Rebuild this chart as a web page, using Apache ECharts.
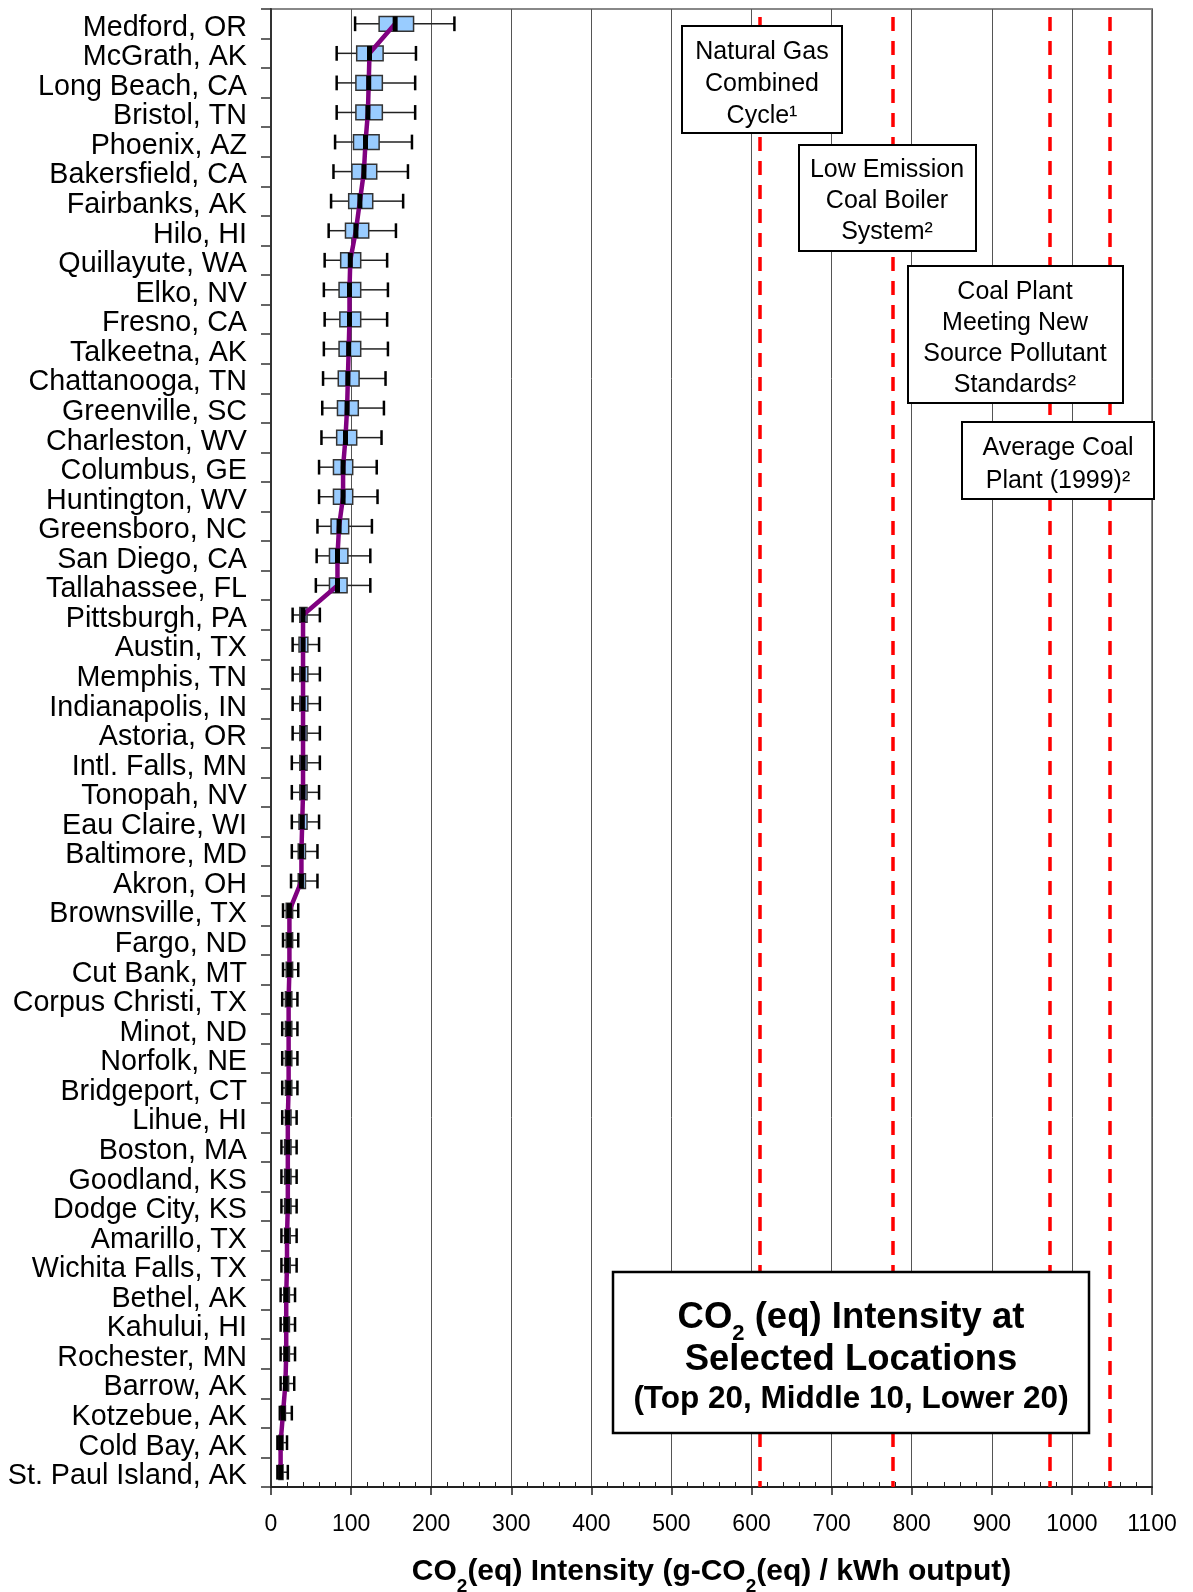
<!DOCTYPE html>
<html><head><meta charset="utf-8">
<script src="https://cdn.jsdelivr.net/npm/echarts@6/dist/echarts.min.js"></script>
<style>html,body{margin:0;padding:0;background:#fff}#c{width:1193px;height:1592px}</style>
</head><body><div id="c"></div><script>
const locations = ['Medford, OR','McGrath, AK','Long Beach, CA','Bristol, TN','Phoenix, AZ','Bakersfield, CA','Fairbanks, AK','Hilo, HI','Quillayute, WA','Elko, NV','Fresno, CA','Talkeetna, AK','Chattanooga, TN','Greenville, SC','Charleston, WV','Columbus, GE','Huntington, WV','Greensboro, NC','San Diego, CA','Tallahassee, FL','Pittsburgh, PA','Austin, TX','Memphis, TN','Indianapolis, IN','Astoria, OR','Intl. Falls, MN','Tonopah, NV','Eau Claire, WI','Baltimore, MD','Akron, OH','Brownsville, TX','Fargo, ND','Cut Bank, MT','Corpus Christi, TX','Minot, ND','Norfolk, NE','Bridgeport, CT','Lihue, HI','Boston, MA','Goodland, KS','Dodge City, KS','Amarillo, TX','Wichita Falls, TX','Bethel, AK','Kahului, HI','Rochester, MN','Barrow, AK','Kotzebue, AK','Cold Bay, AK','St. Paul Island, AK'];
const whiskerLow = [105,82,82,82,80,78,75,72,67,66, 67,66,65,64,63,60,60,58,57,56, 27,27,27,27,27,26,26,26,26,25, 15,15,15,14,14,14,14,14,13,13, 13,13,13,12,12,12,12,11,8,8];
const q1 = [135,107,106,106,103,101,97,93,87,85, 86,85,84,83,82,78,78,75,73,73, 36,35,36,36,36,36,36,35,34,34, 19,19,19,18,18,18,18,18,17,17, 17,17,17,16,16,16,16,13,10,10];
const median = [155,123,122,121,118,116,111,106,99,98, 98,97,96,95,93,90,90,85,83,83, 40,40,40,40,40,40,40,39,38,38, 23,23,23,22,22,22,22,21,21,21, 21,20,20,19,19,19,18,15,12,12];
const q3 = [178,140,139,139,135,132,127,122,112,112, 112,112,110,109,107,102,102,97,96,95, 45,46,46,46,45,45,45,45,43,43, 27,27,27,26,26,26,26,25,25,25, 25,24,24,23,23,23,22,18,15,15];
const whiskerHigh = [229,181,180,180,176,171,165,156,145,146, 145,146,143,141,138,132,133,126,124,124, 61,60,61,61,61,61,60,60,58,58, 34,34,34,33,33,33,33,32,32,32, 32,32,32,30,30,30,29,26,20,21];
const referenceLines = [610, 776, 972, 1047];
const xTicks = {min: 0, max: 1100, interval: 100};

const FONT = '"Liberation Sans", Arial, sans-serif';
const chart = echarts.init(document.getElementById('c'), null, {renderer: 'canvas'});

const boxData = locations.map((n, i) => [i, whiskerLow[i], q1[i], median[i], q3[i], whiskerHigh[i]]);
const medData = locations.map((n, i) => [i, median[i]]);

function renderBox(params, api) {
  const cat = api.value(0);
  const lo = api.coord([api.value(1), cat]);
  const b1 = api.coord([api.value(2), cat]);
  const b3 = api.coord([api.value(4), cat]);
  const hi = api.coord([api.value(5), cat]);
  const band = api.size([0, 1])[1];
  const h = band * 0.5;
  const y = lo[1];
  return {type: 'group', children: [
    {type: 'line', shape: {x1: lo[0], y1: y, x2: b1[0], y2: y}, style: {stroke: '#222', lineWidth: 1.5}},
    {type: 'line', shape: {x1: b3[0], y1: y, x2: hi[0], y2: y}, style: {stroke: '#222', lineWidth: 1.5}},
    {type: 'line', shape: {x1: lo[0], y1: y - h / 2, x2: lo[0], y2: y + h / 2}, style: {stroke: '#000', lineWidth: 2.5}},
    {type: 'line', shape: {x1: hi[0], y1: y - h / 2, x2: hi[0], y2: y + h / 2}, style: {stroke: '#000', lineWidth: 2.5}},
    {type: 'rect', shape: {x: b1[0], y: y - h / 2, width: b3[0] - b1[0], height: h}, style: {fill: '#99CCFF', stroke: '#333', lineWidth: 1.5}}
  ]};
}
function renderMedian(params, api) {
  const cat = api.value(0);
  const p = api.coord([api.value(1), cat]);
  const band = api.size([0, 1])[1];
  const h = band * 0.5;
  return {type: 'rect', shape: {x: p[0] - 2.5, y: p[1] - h / 2, width: 5, height: h}, style: {fill: '#000'}};
}

const gridRect = {left: 271, right: 41, top: 9, bottom: 105, containLabel: false, outerBoundsMode: 'none'};

function boxText(text, cx, cy, lh) {
  return {type: 'text', z: 101, x: cx, y: cy, style: {
    text: text, align: 'center', verticalAlign: 'middle',
    fontFamily: FONT, fontSize: 25, fill: '#000', lineHeight: lh
  }};
}
function boxRect(x, y, w, h, lw) {
  return {type: 'rect', z: 100, shape: {x: x, y: y, width: w, height: h}, style: {fill: '#fff', stroke: '#000', lineWidth: lw || 2}};
}

const option = {
  animation: false,
  backgroundColor: '#fff',
  grid: [
    Object.assign({show: true, borderColor: '#888', borderWidth: 2, backgroundColor: 'transparent'}, gridRect),
    Object.assign({show: false}, gridRect)
  ],
  xAxis: [{
    type: 'value', gridIndex: 0, min: xTicks.min, max: xTicks.max, interval: xTicks.interval,
    axisLine: {show: true, onZero: false, lineStyle: {color: '#222', width: 2}},
    axisTick: {show: true, length: 8, lineStyle: {color: '#222', width: 1.5}},
    axisLabel: {fontFamily: FONT, fontSize: 23, color: '#000', margin: 26, formatter: v => String(v)},
    splitLine: {show: true, lineStyle: {color: '#555', width: 1}},
    name: '{m|CO}{s|2}{m|(eq) Intensity (g-CO}{s|2}{m|(eq) / kWh output)}',
    nameLocation: 'middle', nameGap: 70,
    nameTextStyle: {
      fontFamily: FONT, fontWeight: 'bold', fontSize: 30, color: '#000',
      rich: {
        m: {fontFamily: FONT, fontWeight: 'bold', fontSize: 30, lineHeight: 32, verticalAlign: 'top', color: '#000'},
        s: {fontFamily: FONT, fontWeight: 'bold', fontSize: 19, lineHeight: 19, verticalAlign: 'top', padding: [20, 0, 0, 0], color: '#000'}
      }
    }
  }, {
    type: 'value', gridIndex: 1, min: xTicks.min, max: xTicks.max, interval: xTicks.interval,
    axisLine: {show: false}, axisLabel: {show: false}, splitLine: {show: false},
    axisTick: {show: false, inside: true},
    minorTick: {show: true, splitNumber: 5, length: 5, lineStyle: {color: '#222', width: 1}}
  }],
  yAxis: [{
    type: 'category', gridIndex: 0, data: locations, inverse: true,
    axisLine: {show: true, lineStyle: {color: '#333', width: 2}},
    axisTick: {show: true, length: 10, lineStyle: {color: '#333', width: 1.5}},
    axisLabel: {
      color: '#000', margin: 24, interval: 0,
      formatter: v => '{a|' + v + '}',
      rich: {a: {fontFamily: FONT, fontSize: 28.7, color: '#000', lineHeight: 30, padding: [8, 0, 0, 0]}}
    },
    splitLine: {show: false}
  }, {
    type: 'category', gridIndex: 1, data: locations, inverse: true, show: false
  }],
  series: [
    {
      type: 'custom', name: 'box', xAxisIndex: 0, yAxisIndex: 0, z: 3,
      renderItem: renderBox, data: boxData,
      encode: {x: [1, 2, 3, 4, 5], y: 0}
    },
    {
      type: 'line', name: 'median', xAxisIndex: 0, yAxisIndex: 0, z: 4,
      data: median.map((v, i) => [v, i]),
      symbol: 'none', lineStyle: {color: '#800080', width: 4.5}, itemStyle: {color: '#800080'},
      markLine: {
        silent: true, symbol: 'none', z: 2,
        label: {show: false},
        lineStyle: {color: '#FF0000', type: [14, 10], dashOffset: -8, width: 3.5},
        data: referenceLines.map(v => ({xAxis: v}))
      }
    },
    {
      type: 'custom', name: 'medianBar', xAxisIndex: 0, yAxisIndex: 0, z: 5,
      renderItem: renderMedian, data: medData,
      encode: {x: 1, y: 0}
    }
  ],
  graphic: [
    boxRect(682, 26, 160, 107),
    boxText('Natural Gas\nCombined\nCycle\u00B9', 762, 84, 32),
    boxRect(799, 145, 177, 106),
    boxText('Low Emission\nCoal Boiler\nSystem\u00B2', 887, 201, 31),
    boxRect(908, 266, 215, 137),
    boxText('Coal Plant\nMeeting New\nSource Pollutant\nStandards\u00B2', 1015, 339, 31),
    boxRect(962, 422, 192, 77),
    boxText('Average Coal\nPlant (1999)\u00B2', 1058, 465, 33),
    boxRect(613, 1272, 476, 161, 2.5),
    {type: 'text', z: 101, x: 851, y: 1299, style: {
      text: '{m|CO}{s|2}{m| (eq) Intensity at}', align: 'center', verticalAlign: 'top',
      fontFamily: FONT, fontWeight: 'bold', fontSize: 36.5, fill: '#000',
      rich: {
        m: {fontFamily: FONT, fontWeight: 'bold', fontSize: 36.5, lineHeight: 40, verticalAlign: 'top', fill: '#000'},
        s: {fontFamily: FONT, fontWeight: 'bold', fontSize: 22, lineHeight: 22, verticalAlign: 'top', padding: [24, 0, 0, 0], fill: '#000'}
      }
    }},
    {type: 'text', z: 101, x: 851, y: 1360, style: {
      text: 'Selected Locations', align: 'center', verticalAlign: 'middle',
      fontFamily: FONT, fontWeight: 'bold', fontSize: 36.5, fill: '#000'
    }},
    {type: 'text', z: 101, x: 851, y: 1399, style: {
      text: '(Top 20, Middle 10, Lower 20)', align: 'center', verticalAlign: 'middle',
      fontFamily: FONT, fontWeight: 'bold', fontSize: 31.5, fill: '#000'
    }}
  ]
};
chart.setOption(option);
</script></body></html>
